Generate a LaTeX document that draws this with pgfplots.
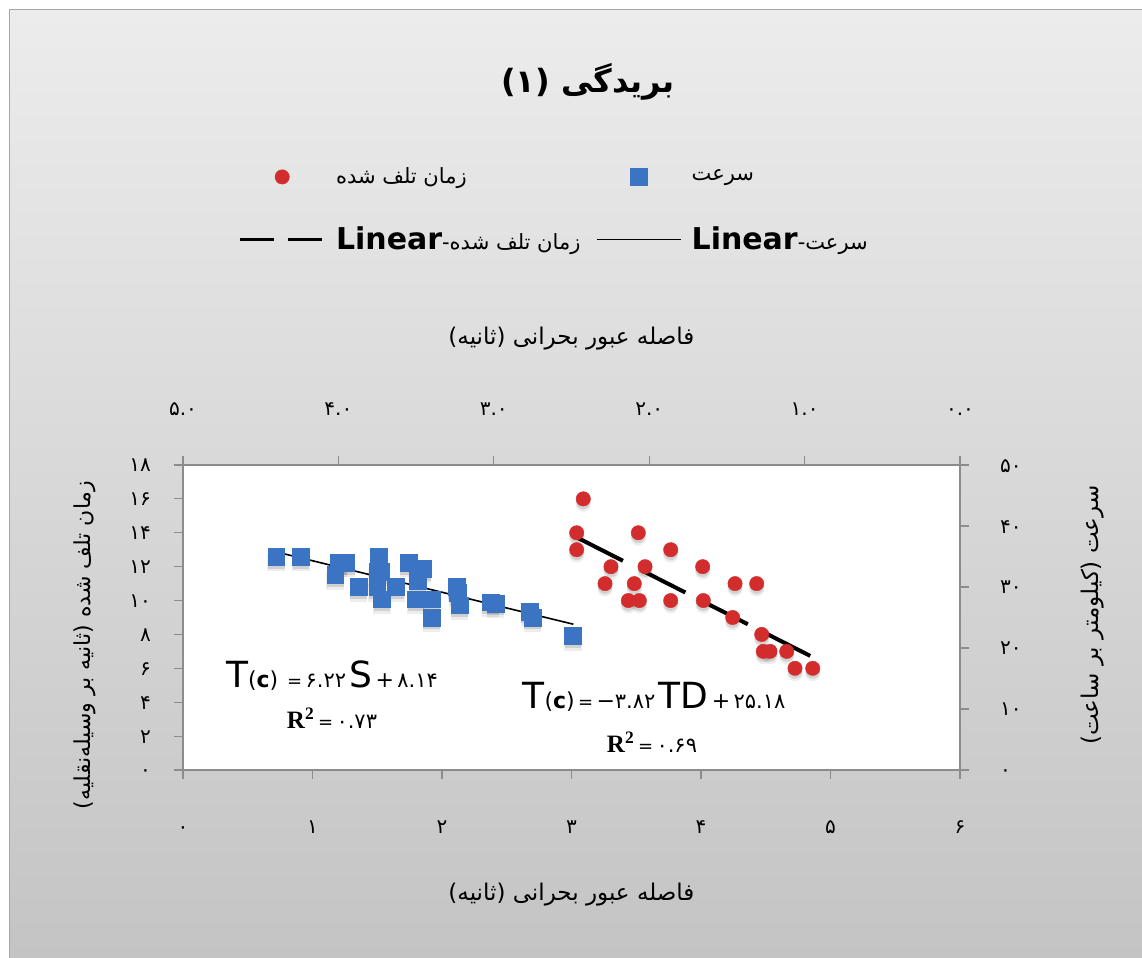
\documentclass[border=0pt]{standalone}
\usepackage{fontspec}
\usepackage{pgfplots}
\usepackage{pgfplotstable}
\pgfplotsset{compat=1.18}
\setmainfont{DejaVu Sans}
\newfontfamily\fa[Script=Arabic]{DejaVu Sans}
\newfontfamily\serifB{Liberation Serif}
\TeXXeTstate=1
\definecolor{sqblue}{RGB}{58,116,194}
\definecolor{cred}{RGB}{210,44,44}
\definecolor{axgray}{RGB}{140,140,140}
\definecolor{bgtop}{RGB}{236,236,236}
\definecolor{bgbot}{RGB}{196,196,196}

% red series: primary axes (bottom x, left y)
\pgfplotstableread{
x y
3.091 16
3.040 14
3.040 13
3.516 14
3.305 12
3.568 12
3.766 13
4.013 12
3.259 11
3.485 11
3.439 10
3.524 10
3.766 10
4.018 10
4.263 11
4.430 11
4.245 9
4.469 8
4.481 7
4.533 7
4.662 7
4.726 6
4.863 6
}\reddata
% blue series: secondary axes (top x reversed, right y)
\pgfplotstableread{
x y
4.40 35
4.24 35
4.00 34
3.95 34
4.02 32
3.87 30
3.74 35
3.75 32.5
3.73 32.5
3.75 30
3.72 28
3.63 30
3.55 34
3.46 33
3.49 32
3.49 31
3.50 28
3.40 28
3.40 25
3.24 30
3.23 29
3.22 27
3.02 27.5
2.99 27.3
2.77 26
2.75 25
2.49 22
}\bluedata

\begin{document}
\begin{tikzpicture}
% background
\fill[white] (-91.5pt,-94pt) rectangle (479.5pt,385pt);
\shade[top color=bgtop, bottom color=bgbot] (-86.5pt,-94pt) rectangle (479.5pt,380pt);
\draw[gray!70, line width=0.5pt] (-86.5pt,-94pt) -- (-86.5pt,380pt) -- (479.5pt,380pt);

\begin{axis}[
  scale only axis, width=388.5pt, height=152.5pt,
  at={(0,0)}, anchor=south west,
  xmin=0, xmax=6, ymin=0, ymax=18,
  xtick={0,...,6}, xticklabels={۰,۱,۲,۳,۴,۵,۶},
  ytick={0,2,...,18}, yticklabels={۰,۲,۴,۶,۸,۱۰,۱۲,۱۴,۱۶,۱۸},
  xtick pos=bottom, ytick pos=left,
  tick align=outside, major tick length=4.5pt,
  axis line style={axgray, line width=0.6pt},
  tick style={axgray, line width=0.6pt},
  ticklabel style={font=\fa\fontsize{10}{12}\selectfont, text height=7.5pt, text depth=0.5pt},
  xticklabel shift=16pt, yticklabel shift=8pt,
  axis background/.style={fill=white},
  xlabel={\fa\beginR فاصله عبور بحرانی (ثانیه)\endR},
  xlabel style={at={(axis description cs:0.5,-0.41)}, anchor=center, font=\fontsize{11.5}{13}\selectfont},
  ylabel={\fa\beginR زمان تلف شده (ثانیه بر وسیله‌نقلیه)\endR},
  ylabel style={at={(axis description cs:-0.126,0.41)}, anchor=center, font=\fontsize{11}{13}\selectfont},
  legend image code/.code={\draw[mark repeat=2,mark phase=2,#1] plot coordinates {(0pt,0pt)(21pt,0pt)(42pt,0pt)};},
  legend style={at={(axis description cs:0.0708,1.99)}, anchor=north west, draw=none, fill=none,
    inner sep=0pt, row sep=16pt, font=\fontsize{10.5}{12}\selectfont,
    /tikz/every odd column/.append style={column sep=3pt},
    /tikz/every even column/.append style={column sep=6pt}},
  legend columns=2, legend cell align=left,
]
\addplot[only marks, mark=*, mark size=3.8pt, mark options={fill=black, fill opacity=0.07, draw opacity=0, yshift=-2.6pt}, forget plot] table {\reddata};
\addplot[only marks, mark=*, mark size=3.6pt, mark options={fill=black, fill opacity=0.11, draw opacity=0, yshift=-1.6pt}, forget plot] table {\reddata};
\addplot[only marks, mark=*, mark size=3.6pt, mark options={draw=cred, fill=cred, line width=0.2pt}] table {\reddata};
\addlegendentry{\fa\beginR زمان تلف شده\endR}
\addlegendimage{only marks, mark=square*, mark size=4.2pt, mark options={draw=sqblue, fill=sqblue, line width=0.2pt}}
\addlegendentry{\fa\beginR سرعت\endR}
\addplot[black, line width=2pt, dash pattern=on 25pt off 10pt, legend image post style={dash pattern=on 17pt off 7pt, line width=1.8pt}] coordinates {(3.053,13.68) (4.855,6.69)};
\addlegendentry{{\fontsize{15}{16}\selectfont\bfseries Linear}-{\fa\beginR زمان تلف شده\endR}}
\addlegendimage{black, line width=0.6pt}
\addlegendentry{{\fontsize{15}{16}\selectfont\bfseries Linear}-{\fa\beginR سرعت\endR}}
\end{axis}

\begin{axis}[
  scale only axis, width=388.5pt, height=152.5pt,
  at={(0,0)}, anchor=south west,
  xmin=0, xmax=5, x dir=reverse, ymin=0, ymax=50,
  xtick={0,...,5}, xticklabels={۰.۰,۱.۰,۲.۰,۳.۰,۴.۰,۵.۰},
  ytick={0,10,...,50}, yticklabels={۰,۱۰,۲۰,۳۰,۴۰,۵۰},
  xtick pos=top, ytick pos=right, xticklabel pos=top, yticklabel pos=right,
  tick align=outside, major tick length=4.5pt,
  axis line style={axgray, line width=0.6pt},
  tick style={axgray, line width=0.6pt},
  ticklabel style={font=\fa\fontsize{10}{12}\selectfont, text height=7.5pt, text depth=0.5pt},
  xticklabel shift=16pt, yticklabel shift=12pt,
  xlabel={\fa\beginR فاصله عبور بحرانی (ثانیه)\endR},
  xlabel style={at={(axis description cs:0.5,1.416)}, anchor=center, font=\fontsize{11.5}{13}\selectfont},
  ylabel={\fa\beginR سرعت (کیلومتر بر ساعت)\endR},
  ylabel style={at={(axis description cs:1.17,0.508)}, anchor=center, font=\fontsize{11.5}{13}\selectfont},
]
\addplot[only marks, mark=square*, mark size=4.4pt, mark options={fill=black, fill opacity=0.07, draw opacity=0, yshift=-3pt}] table {\bluedata};
\addplot[only marks, mark=square*, mark size=4.2pt, mark options={fill=black, fill opacity=0.12, draw opacity=0, yshift=-1.8pt}] table {\bluedata};
\addplot[only marks, mark=square*, mark size=4.2pt, mark options={draw=sqblue, fill=sqblue, line width=0.2pt}] table {\bluedata};
\addplot[black, line width=0.8pt] coordinates {(4.408,35.8) (2.488,23.9)};
\end{axis}

% title
\node[font=\fa\bfseries\fontsize{16}{18}\selectfont] at (202.5pt,344pt) {\beginR بریدگی (۱)\endR};
% regression equations
\node at (74.5pt,47pt) {{\fontsize{18}{20}\selectfont T}{\fontsize{11}{12}\selectfont(\textbf{c})}\;\,{\fontsize{9}{10}\selectfont =}\,{\fa\fontsize{10.5}{12}\selectfont ۶.۲۲}\,{\fontsize{18}{20}\selectfont S}\,{\fontsize{11}{12}\selectfont +}\,{\fa\fontsize{10.5}{12}\selectfont ۸.۱۴}};
\node at (74.5pt,26pt) {{\serifB\bfseries\fontsize{12.5}{14}\selectfont R\textsuperscript{2}}\,{\fontsize{9}{10}\selectfont =}\,{\fa\fontsize{10.5}{12}\selectfont ۰.۷۳}};
\node at (235.5pt,36.5pt) {{\fontsize{18}{20}\selectfont T}{\fontsize{11}{12}\selectfont(\textbf{c})}\,{\fontsize{9}{10}\selectfont =}\,{\fontsize{11}{12}\selectfont −}{\fa\fontsize{10.5}{12}\selectfont ۳.۸۲}\,{\fontsize{18}{20}\selectfont TD}\,{\fontsize{11}{12}\selectfont +}\,{\fa\fontsize{10.5}{12}\selectfont ۲۵.۱۸}};
\node at (234.5pt,14pt) {{\serifB\bfseries\fontsize{12.5}{14}\selectfont R\textsuperscript{2}}\,{\fontsize{9}{10}\selectfont =}\,{\fa\fontsize{10.5}{12}\selectfont ۰.۶۹}};

\pgfresetboundingbox
\useasboundingbox (-91.5pt,-94pt) rectangle (479.5pt,385pt);
\end{tikzpicture}
\end{document}
